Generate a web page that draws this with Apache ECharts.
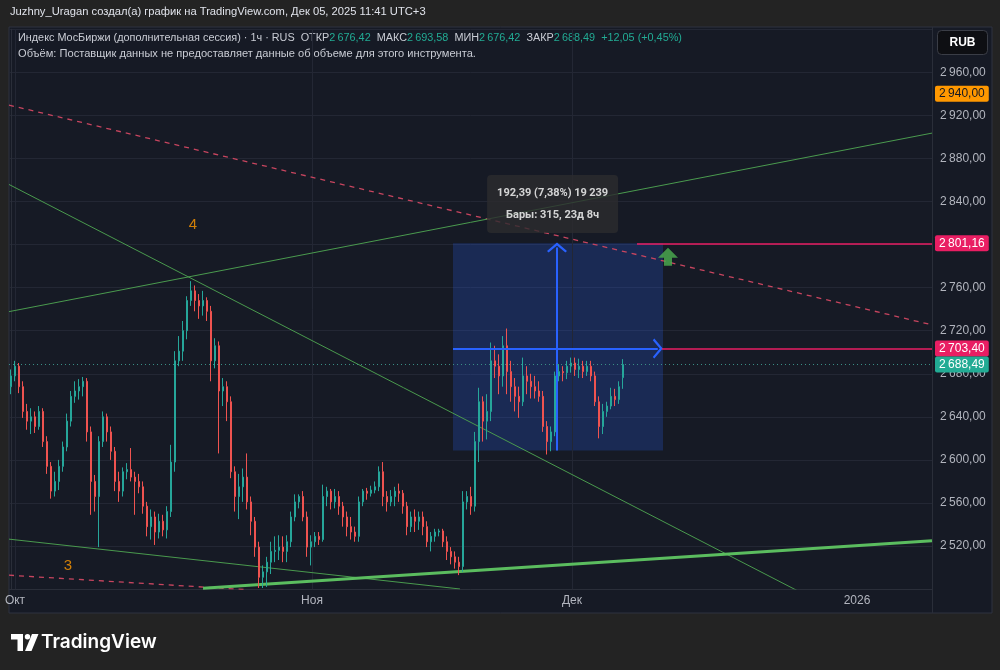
<!DOCTYPE html>
<html><head><meta charset="utf-8">
<script src="https://cdn.jsdelivr.net/npm/echarts@6/dist/echarts.min.js"></script>
<style>html,body{margin:0;padding:0;background:#232323;}#c{width:1000px;height:670px;}</style>
</head><body><div id="c"></div>
<script>
// ---- DATA (x = candle slot, each slot ≈ 6 hourly bars) ----
const opens = [2668,2678,2687,2668,2645,2636,2640,2631,2645,2617,
2594,2571,2580,2594,2612,2636,2659,2664,2668,2673,
2626,2580,2566,2617,2640,2626,2608,2580,2571,2589,
2591,2584,2580,2575,2557,2538,2547,2533,2543,2535,
2552,2598,2692,2701,2720,2748,2757,2748,2743,2748,
2738,2692,2706,2664,2668,2654,2589,2566,2575,2584,
2561,2543,2519,2491,2496,2505,2515,2516,2519,2515,
2524,2547,2561,2566,2547,2519,2524,2529,2526,2566,
2571,2561,2566,2557,2547,2538,2533,2529,2561,2571,
2569,2572,2575,2589,2566,2561,2566,2571,2569,2557,
2538,2547,2543,2547,2538,2524,2529,2533,2534,2524,
2515,2510,2505,2501,2561,2566,2557,2617,2654,2636,
2645,2692,2687,2678,2706,2682,2668,2659,2654,2678,
2673,2668,2664,2659,2631,2617,2626,2678,2682,2681,
2687,2690,2684,2687,2682,2687,2678,2654,2631,2645,
2650,2659,2656,2676.42];
const closes = [2678,2687,2668,2645,2636,2640,2631,2645,2617,2594,
2571,2580,2594,2612,2636,2659,2664,2668,2673,2626,
2580,2566,2617,2640,2626,2608,2580,2571,2589,2591,
2584,2580,2575,2557,2538,2547,2533,2543,2535,2552,
2598,2692,2701,2720,2748,2757,2748,2743,2748,2738,
2692,2706,2664,2668,2654,2589,2566,2575,2584,2561,
2543,2519,2491,2496,2505,2515,2516,2519,2515,2524,
2547,2561,2566,2547,2519,2524,2529,2526,2566,2571,
2561,2566,2557,2547,2538,2533,2529,2561,2571,2569,
2572,2575,2589,2566,2561,2566,2571,2569,2557,2538,
2547,2543,2547,2538,2524,2529,2533,2534,2524,2515,
2510,2505,2501,2561,2566,2557,2617,2654,2636,2645,
2692,2687,2678,2706,2682,2668,2659,2654,2678,2673,
2668,2664,2659,2631,2617,2626,2678,2682,2681,2687,
2690,2684,2687,2682,2687,2678,2654,2631,2645,2650,
2659,2656,2668,2688.49];
const lows = [2661,2673,2662,2639,2628,2624,2625,2628,2612,2587,
2564,2566,2572,2589,2608,2631,2653,2656,2659,2617,
2549,2552,2519,2612,2617,2600,2571,2561,2566,2582,
2580,2549,2569,2550,2529,2526,2521,2527,2529,2527,
2547,2589,2687,2692,2712,2743,2738,2731,2734,2729,
2673,2685,2606,2650,2636,2583,2552,2545,2561,2554,
2530,2510,2481,2481,2482,2494,2505,2507,2505,2505,
2519,2543,2555,2543,2510,2502,2519,2521,2524,2557,
2554,2555,2549,2538,2529,2526,2524,2524,2557,2563,
2566,2569,2571,2557,2552,2557,2557,2561,2550,2530,
2533,2533,2535,2530,2519,2515,2524,2529,2519,2507,
2503,2499,2493,2496,2554,2549,2552,2598,2617,2619,
2636,2676,2661,2668,2661,2654,2645,2639,2650,2661,
2657,2657,2654,2626,2605,2608,2622,2673,2673,2675,
2681,2678,2676,2676,2678,2673,2650,2620,2624,2640,
2647,2650,2652,2666];
const highs = [2684,2692,2690,2673,2652,2648,2645,2650,2648,2622,
2598,2589,2600,2617,2643,2664,2673,2675,2677,2676,
2631,2586,2622,2645,2643,2631,2612,2589,2593,2597,
2611,2589,2587,2580,2561,2554,2552,2550,2549,2557,
2614,2701,2715,2729,2752,2766,2762,2754,2757,2751,
2743,2713,2710,2676,2673,2659,2594,2587,2592,2606,
2566,2547,2524,2502,2510,2524,2529,2530,2529,2530,
2552,2568,2568,2571,2552,2530,2533,2533,2577,2575,
2573,2573,2571,2561,2552,2547,2538,2566,2573,2574,
2576,2580,2594,2598,2571,2572,2575,2578,2572,2561,
2552,2554,2552,2552,2543,2533,2536,2536,2536,2529,
2519,2515,2510,2571,2571,2575,2626,2667,2659,2661,
2709,2706,2698,2715,2722,2692,2676,2668,2695,2687,
2680,2678,2673,2664,2636,2631,2682,2689,2687,2692,
2695,2695,2694,2692,2692,2692,2682,2659,2652,2654,
2667,2666,2673,2693.58];

const timeTickPos = [1, 75.25, 140.25, 211.5];
const timeTickLabels = ['Окт', 'Ноя', 'Дек', '2026'];

// trend lines: [slot, price]
const redDashUpper = [[-0.5, 2929.5], [230.25, 2725.4]];
const redDashLower = [[-0.5, 2492.9], [58.75, 2479.5]];
const greenDown = [[-0.5, 2855.8], [197.25, 2477.3]];
const greenUp = [[-0.5, 2737.7], [230.25, 2903.5]];
const greenLowerDown = [[-0.5, 2526.4], [112.25, 2480.1]];
const greenThick = [[48, 2480.9], [230.25, 2524.8]];

const levelPrices = [2801.16, 2703.40];
const levelStartX = [156.5, 162.75];
const lastPrice = 2688.49;
const alertPrice = 2940.00;

const measureX = [110.5, 163];
const measurePrice = [2608.77, 2801.16];
const measureArrowX = 136.5;
const measureMidPrice = 2703.40;
const measureTextPos = [135.4, 2837.7];
const measureLines = ['192,39 (7,38%) 19\u2009239', 'Бары: 315, 23д 8ч'];

const arrowMarkPos = [164.25, 2788.7];
const waveLabels = [{ value: [45.5, 2818.5], name: '4' }, { value: [14.25, 2501.5], name: '3' }];

const headerText = 'Juzhny_Uragan создал(а) график на TradingView.com, Дек 05, 2025 11:41 UTC+3';
const legendParts = [['n', 'Индекс МосБиржи (дополнительная сессия) · 1ч · RUS  '], ['k', 'ОТКР'], ['v', '2\u2009676,42  '], ['k', 'МАКС'], ['v', '2\u2009693,58  '], ['k', 'МИН'], ['v', '2\u2009676,42  '], ['k', 'ЗАКР'], ['v', '2\u2009688,49  '], ['v', '+12,05 (+0,45%)']];
const volumeText = 'Объём: Поставщик данных не предоставляет данные об объеме для этого инструмента.';

// ---- CHART ----
const FONT = '"Liberation Sans", Arial, sans-serif';
const fmtPrice = v => { const p = v.toFixed(2).split('.'); const i = p[0]; return i.slice(0, -3) + '\u2009' + i.slice(-3) + ',' + p[1]; };
const chevron = 'path://M0,9 L10,0 L20,9 L18.4,10.6 L10,3.2 L1.6,10.6 Z';

const chart = echarts.init(document.getElementById('c'), null, { renderer: 'canvas' });

function tag(price, bg, fg, lineStyle, from) {
  const lbl = { show: true, position: 'end', distance: 3, formatter: fmtPrice(price), backgroundColor: bg, color: fg, padding: [2, 4, 2, 4], fontSize: 12, fontFamily: FONT, lineHeight: 12, borderRadius: 2 };
  if (from == null) return { yAxis: price, lineStyle: lineStyle, label: lbl };
  return [{ coord: [from, price], lineStyle: lineStyle, label: lbl }, { coord: [230.25, price] }];
}

function lineSeries(data, color, width, type, z) {
  return { type: 'line', data: data, symbol: 'none', silent: true, z: z || 2, clip: true,
    lineStyle: { color: color, width: width, type: type || 'solid' }, animation: false };
}

const option = {
  backgroundColor: '#232323',
  animation: false,
  textStyle: { fontFamily: FONT },
  grid: { left: 9, right: 68, top: 29.2, bottom: 80.9 },
  xAxis: {
    type: 'value', min: -0.5, max: 230.25,
    axisLine: { show: true, lineStyle: { color: '#2a2e39' } },
    axisTick: { show: false }, splitLine: { show: false },
    axisLabel: { customValues: timeTickPos, formatter: v => { const k = timeTickPos.indexOf(v); return k >= 0 ? timeTickLabels[k] : ''; }, color: '#b2b5be', fontSize: 12, margin: 6 }
  },
  yAxis: {
    type: 'value', position: 'right', min: 2480, max: 3000, interval: 40, scale: true,
    axisLine: { show: true, lineStyle: { color: '#2a2e39' } },
    axisTick: { show: false },
    splitLine: { show: true, lineStyle: { color: '#232734', width: 1 } },
    axisLabel: { showMinLabel: false, showMaxLabel: false, formatter: fmtPrice, color: '#b2b5be', fontSize: 12, margin: 8 }
  },
  graphic: [
    { type: 'rect', z: -10, silent: true, shape: { x: 9, y: 27, width: 983, height: 586 }, style: { fill: '#161a25', stroke: '#2e3240', lineWidth: 1 } },
    { type: 'line', z: 1, silent: true, shape: { x1: 932.5, y1: 27, x2: 932.5, y2: 613 }, style: { stroke: '#2a2e39', lineWidth: 1 } },
    { type: 'text', left: 10, top: 6, style: { text: headerText, fill: '#e0e3eb', fontSize: 11.2, fontFamily: FONT } },
    { type: 'text', left: 18, top: 32, style: { text: legendParts.map(p => '{' + p[0] + '|' + p[1] + '}').join(''), fontSize: 10.85, fontFamily: FONT,
      rich: { n: { fill: '#c9ccd4', fontSize: 10.85, fontFamily: FONT }, k: { fill: '#c9ccd4', fontSize: 10.85, fontFamily: FONT }, v: { fill: '#22ab94', fontSize: 10.85, fontFamily: FONT } } } },
    { type: 'text', left: 18, top: 48, style: { text: volumeText, fill: '#c9ccd4', fontSize: 11.1, fontFamily: FONT } },
    { type: 'rect', silent: true, shape: { x: 937.5, y: 30.5, width: 50, height: 24, r: 4 }, style: { fill: '#0e0f13', stroke: '#3a3d46', lineWidth: 1 } },
    { type: 'text', silent: true, style: { text: 'RUB', x: 962.5, y: 43, align: 'center', verticalAlign: 'middle', fill: '#ffffff', fontSize: 12, fontWeight: 'bold', fontFamily: FONT } },
    { type: 'polygon', silent: true, shape: { points: [[11, 634], [23, 634], [23, 651], [17.5, 651], [17.5, 639.5], [11, 639.5]] }, style: { fill: '#ffffff' } },
    { type: 'circle', silent: true, shape: { cx: 27.5, cy: 636.8, r: 2.7 }, style: { fill: '#ffffff' } },
    { type: 'polygon', silent: true, shape: { points: [[32, 634], [38.5, 634], [31.5, 651], [25, 651]] }, style: { fill: '#ffffff' } },
    { type: 'text', silent: true, style: { text: 'TradingView', x: 41, y: 642.5, verticalAlign: 'middle', fill: '#ffffff', fontSize: 19, fontWeight: 600, fontFamily: 'Inter, "Noto Sans", sans-serif' } }
  ],
  series: [
    // vertical grid lines + measurement box (behind candles)
    { type: 'line', data: [], z: 1, silent: true,
      markLine: { silent: true, symbol: ['none', 'none'], z: 1, label: { show: false },
        lineStyle: { color: '#232734', width: 1, type: 'solid' },
        data: timeTickPos.slice(0, 3).map(v => ({ xAxis: v })) },
      markArea: { silent: true, z: 1, itemStyle: { color: 'rgba(41,98,255,0.22)' },
        data: [[{ coord: [measureX[0], measurePrice[1]] }, { coord: [measureX[1], measurePrice[0]] }]] } },
    lineSeries(redDashUpper, '#c8455f', 1.3, [5, 5]),
    lineSeries(redDashLower, '#c8455f', 1.3, [5, 5]),
    lineSeries(greenDown, '#4a9a4e', 1),
    lineSeries(greenUp, '#4a9a4e', 1),
    lineSeries(greenLowerDown, '#4a9a4e', 1),
    lineSeries(greenThick, '#5bbd5f', 3),
    {
      type: 'candlestick', z: 3, silent: true, barWidth: 2,
      encode: { x: 0, y: [1, 2, 3, 4] },
      data: opens.map((o, i) => [i, o, closes[i], lows[i], highs[i]]),
      itemStyle: { color: '#26a69a', color0: '#ef5350', borderColor: '#26a69a', borderColor0: '#ef5350', borderWidth: 1 }
    },
    // price levels and tags
    { type: 'line', data: [], z: 5, silent: true,
      markLine: { silent: true, symbol: ['none', 'none'], z: 6, animation: false,
        data: [
          tag(alertPrice, '#ff9800', '#131722', { color: 'rgba(0,0,0,0)', width: 1 }),
          tag(levelPrices[0], '#e91e63', '#ffffff', { color: '#e91e63', width: 1.6, type: 'solid' }, levelStartX[0]),
          tag(levelPrices[1], '#e91e63', '#ffffff', { color: '#e91e63', width: 1.6, type: 'solid' }, levelStartX[1]),
          tag(lastPrice, '#22ab94', '#ffffff', { color: '#3a8f86', width: 1, type: [1, 3] })
        ] } },
    // measurement arrows
    { type: 'line', data: [], z: 5, silent: true,
      markLine: { silent: true, z: 5, symbol: ['none', chevron], symbolSize: [20, 10],
        lineStyle: { color: '#2962ff', width: 2, type: 'solid' }, itemStyle: { color: '#2962ff' }, label: { show: false },
        data: [
          [{ coord: [measureArrowX, measurePrice[0]] }, { coord: [measureArrowX, measurePrice[1] - 4] }],
          [{ coord: [measureX[0], measureMidPrice] }, { coord: [measureX[1] - 1.3, measureMidPrice] }]
        ] } },
    // measurement text box
    { type: 'scatter', z: 20, silent: true, symbolSize: 1, itemStyle: { color: 'rgba(0,0,0,0)' },
      data: [measureTextPos],
      label: { show: true, position: 'inside', formatter: '{a|' + measureLines[0] + '}\n{a|' + measureLines[1] + '}',
        backgroundColor: '#2c2c2e', borderRadius: 4, padding: [7, 10, 7, 10],
        rich: { a: { color: '#ffffff', fontSize: 11, fontWeight: 'bold', lineHeight: 22, fontFamily: 'Roboto, "Liberation Sans", sans-serif', align: 'center' } } } },
    // green arrow mark
    { type: 'scatter', z: 6, silent: true, data: [arrowMarkPos],
      symbol: 'path://M10,0 L20,10 L14,10 L14,18 L6,18 L6,10 L0,10 Z', symbolSize: [20, 18],
      itemStyle: { color: '#4caf50' } },
    // wave labels
    { type: 'scatter', z: 6, silent: true, symbolSize: 1, itemStyle: { color: 'rgba(0,0,0,0)' },
      data: waveLabels,
      label: { show: true, position: 'inside', formatter: '{b}', color: '#ff9800', fontSize: 15, fontFamily: FONT } }
  ]
};
chart.setOption(option);
</script>
</body></html>
